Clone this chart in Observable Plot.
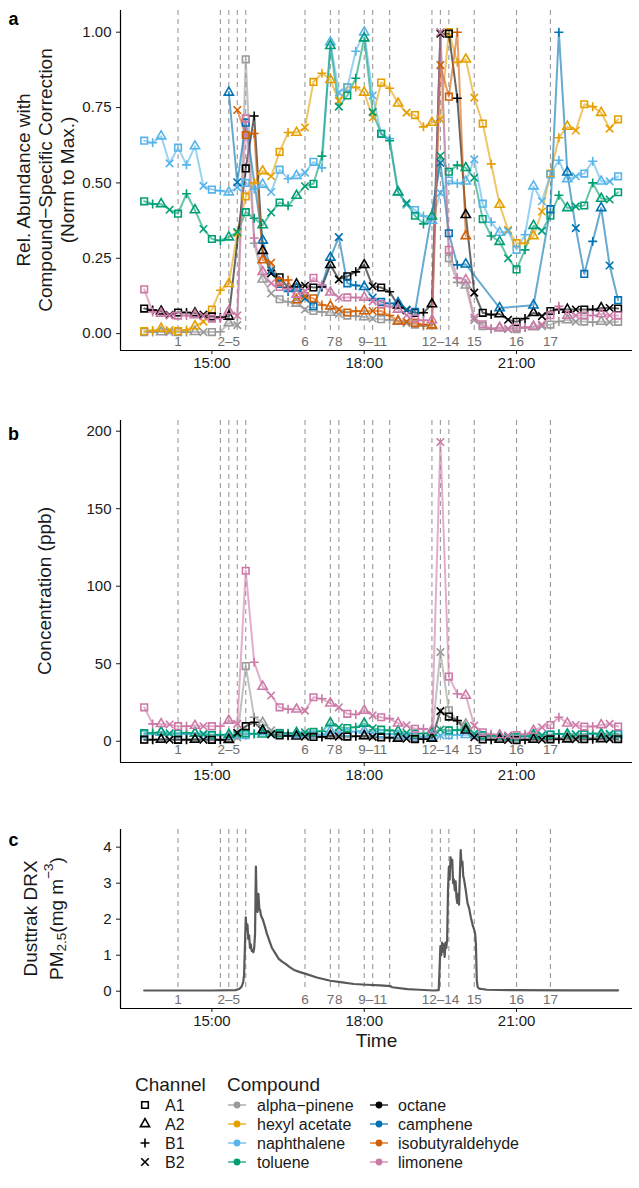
<!DOCTYPE html>
<html>
<head>
<meta charset="utf-8">
<script src="https://cdn.jsdelivr.net/npm/d3@7"></script>
<script src="https://cdn.jsdelivr.net/npm/@observablehq/plot@0.6"></script>
<style>
  body { margin: 0; background: #fff; }
  #chart { width: 639px; }
  #chart svg { display: block; }
</style>
</head>
<body>
<div id="chart"></div>
<script>
// ---------- data ----------
const sampleTimes = ["13:40","13:50","14:00","14:10","14:20","14:30","14:40","14:50","15:00","15:10",
  "15:20","15:30","15:40","15:50","16:00","16:10","16:20","16:30","16:40","16:50",
  "17:00","17:10","17:20","17:30","17:40","17:50","18:00","18:10","18:20","18:30",
  "18:40","18:50","19:00","19:10","19:20","19:30","19:40","19:50","20:00","20:10",
  "20:20","20:30","20:40","20:50","21:00","21:10","21:20","21:30","21:40","21:50",
  "22:00","22:10","22:20","22:30","22:40","22:50","23:00"];

const sampleChannels = ["A1","B1","A2","B2","A1","B1","A2","B2","A1","B1",
  "A2","B2","A1","B1","A2","B2","A1","B1","A2","B2",
  "A1","B1","A2","B2","A1","B1","A2","B2","A1","B1",
  "A2","B2","A1","B1","A2","B2","A1","B1","A2","B2",
  "A1","B1","A2","B2","A1","B1","A2","B2","A1","B1",
  "A2","B2","A1","B1","A2","B2","A1"];

const compounds = ["alpha−pinene","hexyl acetate","naphthalene","toluene","octane","camphene","isobutyraldehyde","limonene"];
const compoundColors = ["#999999","#E69F00","#56B4E9","#009E73","#000000","#0072B2","#D55E00","#CC79A7"];
const channels = ["A1","A2","B1","B2"];

// relative abundance (normalised to max), one value per sample, null = not detected
const relAlphaPinene = [0.005,0.005,0.005,0.005,0.005,0.005,0.006,0.005,0.005,0.006,
  0.035,0.028,0.91,0.30,0.18,0.133,0.114,0.105,0.10,0.08,
  0.075,0.072,0.07,0.065,0.06,0.058,0.055,0.05,0.048,0.045,
  0.04,0.035,0.03,0.025,0.025,1.0,0.25,0.17,0.16,0.045,
  0.025,0.015,0.018,0.015,0.015,0.02,0.022,0.025,0.03,0.04,
  0.045,0.04,0.04,0.038,0.04,0.038,0.039];
const relHexylAcetate = [0.008,0.01,0.017,0.012,0.008,0.012,0.025,0.04,0.08,0.144,
  0.165,0.333,0.455,0.50,0.539,0.522,0.603,0.667,0.667,0.684,
  0.835,0.864,0.842,0.772,0.817,0.817,0.80,0.717,0.833,0.814,
  0.764,0.733,0.725,0.686,0.70,0.711,1.0,0.90,0.91,0.783,
  0.697,0.563,0.428,0.344,0.30,0.30,0.324,0.405,0.531,0.65,
  0.687,0.674,0.761,0.753,0.733,0.68,0.711];
const relNaphthalene = [0.64,0.633,0.655,0.565,0.617,0.56,0.622,0.49,0.478,0.474,
  0.469,0.485,0.50,0.48,0.495,0.47,0.544,0.514,0.524,0.534,
  0.57,0.55,0.967,0.80,0.817,0.937,1.0,0.79,0.663,0.647,
  0.47,0.428,0.41,0.39,0.375,0.467,0.508,0.498,0.505,0.578,
  0.431,0.37,0.335,0.34,0.278,0.328,0.489,0.439,0.528,0.575,
  0.513,0.522,0.531,0.572,0.505,0.505,0.522];
const relToluene = [0.439,0.43,0.43,0.411,0.398,0.464,0.41,0.347,0.314,0.309,
  0.32,0.337,0.403,0.383,0.36,0.402,0.435,0.424,0.458,0.489,
  0.497,0.589,0.955,0.753,0.79,0.847,0.98,0.735,0.663,0.64,
  0.469,0.433,0.391,0.364,0.389,0.59,0.537,0.559,0.55,0.517,
  0.38,0.324,0.305,0.25,0.213,0.278,0.358,0.341,0.391,0.459,
  0.417,0.422,0.425,0.50,0.448,0.445,0.469];
const relOctane = [0.083,0.078,0.074,0.062,0.07,0.07,0.068,0.063,0.057,0.054,
  0.057,null,0.548,0.722,0.275,0.20,0.187,0.153,0.164,0.159,
  0.153,0.155,0.228,0.18,0.19,0.205,0.228,0.157,0.153,0.139,
  0.094,0.078,0.069,0.069,0.098,0.995,0.995,0.781,0.394,0.136,
  0.069,0.063,0.065,0.046,0.039,0.05,0.069,0.058,0.075,0.08,
  0.08,0.08,0.08,0.08,0.085,0.085,0.083];
const relCamphene = [null,null,null,null,null,null,null,null,null,null,
  0.80,0.502,0.70,null,0.309,0.21,0.165,0.14,0.15,0.117,
  0.091,0.16,0.252,0.32,0.167,0.16,0.155,0.12,0.105,0.10,
  0.102,0.08,0.072,null,null,0.567,0.333,0.228,0.23,null,
  null,null,0.085,null,null,null,0.094,null,0.413,1.0,
  0.535,0.35,0.198,0.306,0.417,0.226,0.111];
const relIsobutyraldehyde = [null,null,null,null,null,null,null,null,null,null,
  null,0.742,0.659,0.664,0.244,0.235,0.172,0.178,0.111,0.125,
  0.117,0.095,0.091,0.08,0.07,0.075,0.075,0.075,0.075,0.06,
  0.042,0.04,0.035,0.03,0.028,0.891,0.786,1.0,0.324,null,
  null,null,null,null,null,null,null,null,null,null,
  null,null,null,null,null,null,null];
const relLimonene = [0.147,0.072,0.067,0.06,0.06,0.06,0.062,0.058,0.05,0.05,
  0.075,0.06,0.714,0.317,0.205,0.167,0.155,0.15,0.13,0.14,
  0.185,0.161,0.137,0.12,0.12,0.12,0.12,0.107,0.098,0.09,
  0.08,0.061,0.05,0.044,0.045,1.0,0.278,0.185,0.178,0.053,
  0.031,0.017,0.02,0.017,0.02,0.02,0.024,0.03,0.061,0.091,
  0.06,0.06,0.06,0.06,0.065,0.06,0.06];

// calibrated concentrations (ppb)
const concAlphaPinene = [1.0,1.2,1.5,1.3,1.2,1.2,1.3,1.2,1.3,1.2,
  1.8,2.5,48.5,15.5,12,7,5.5,5,4.5,4.2,
  4,3.8,3.7,3.5,3.3,3.2,3.1,3,2.8,2.7,
  2.5,2.3,2.2,2,2,57.5,20,13,11,4,
  2.5,2,1.8,1.6,1.5,1.5,1.6,1.7,2,2.3,
  2.5,2.4,2.3,2.3,2.3,2.3,2.2];
const concNaphthalene = [4.5,4.5,5.8,4.5,4.8,4.5,5,4,3.7,3.7,
  3.7,3.8,4,4.7,6,4.2,4.2,4,4.3,4.2,
  4.4,4.3,6.8,5.5,5.6,6.3,7,5.4,4.8,4.6,
  3.8,3.5,3.2,3.1,3,3.8,4,4,4.1,4.5,
  3.6,3.2,3,3,2.6,3,4.2,3.8,4.4,4.7,
  4.3,4.4,4.4,4.7,4.3,4.3,4.4];
const concToluene = [5.2,5.5,6,5.2,5.2,5.5,5.2,4.8,4.2,4.2,
  4.3,4.5,5,4.8,4.5,4.8,5.2,5.2,5.5,5.8,
  6,6.5,11.8,9,8.5,9,11.5,8.4,7.5,7,
  6.5,5.5,5,5,5.5,7.6,7,7.2,8.4,5,
  4,3.5,3.4,3,2.8,3.2,4,3.8,4.2,4.8,
  4.5,4.5,4.6,5,4.8,4.8,5];
const concOctane = [1,1,1.1,1,0.9,1,1.1,1,0.9,0.9,
  1,5.5,9.7,12.3,7,4.5,3.7,3.5,3.2,3,
  2.8,2.8,3.5,3,3,3.2,3.5,2.8,2.5,2.3,
  1.8,1.6,1.4,1.4,1.8,19.4,15.9,13.4,7,2.6,
  1.2,1,1.1,0.8,0.7,0.9,1.1,1,1.2,1.3,
  1.3,1.3,1.3,1.3,1.4,1.4,1.3];
const concLimonene = [21.9,11.2,11.2,10.8,9.7,9.7,10.1,9.7,9.7,9.7,
  13.4,11.2,110,51,35.3,29.5,21.9,20.6,20.6,19.8,
  28.4,27.4,24.5,21.9,17.7,17.3,19.8,16.7,15.5,14.6,
  11.6,10.3,8,8,7,193,41.7,30.6,29.5,10.1,
  5.8,4.5,4,3.8,4,4.5,6.9,9,10.5,15.5,
  11.6,10.5,9.5,9.5,10.5,11.2,9.5];

// Dusttrak DRX PM2.5 (mg m-3)
const pmTimes = ["13:40","15:00","15:28","15:32","15:35","15:37","15:38","15:39","15:40","15:41",
  "15:42","15:43","15:44","15:45","15:46","15:47","15:48","15:49","15:50","15:51",
  "15:52","15:53","15:54","15:55","15:56","15:57","15:58","16:00","16:02","16:05",
  "16:08","16:11","16:15","16:19","16:23","16:27","16:32","16:37","16:44","16:51",
  "17:04","17:20","17:32","17:48","18:03","18:19","18:31","18:33","18:51","19:05",
  "19:22","19:28","19:29","19:30","19:31","19:32","19:33","19:34","19:35","19:36",
  "19:37","19:38","19:39","19:40","19:41","19:42","19:43","19:44","19:45","19:46",
  "19:47","19:48","19:49","19:50","19:51","19:52","19:53","19:54","19:55","19:56",
  "19:57","19:58","20:00","20:02","20:04","20:06","20:08","20:10","20:11","20:12",
  "20:13","20:14","20:16","20:25","21:00","22:00","23:00"];
const pmValues = [0.02,0.02,0.03,0.06,0.12,0.25,0.45,1.2,2.05,1.7,
  1.85,1.45,1.55,1.2,1.3,1.12,1.15,1.08,1.2,1.6,
  3.46,2.3,2.2,2.7,2.3,2.25,2.1,2.0,1.85,1.6,
  1.4,1.2,1.05,0.9,0.82,0.76,0.67,0.59,0.53,0.48,
  0.38,0.29,0.25,0.2,0.18,0.16,0.14,0.11,0.06,0.04,
  0.02,0.03,0.6,1.25,1.0,1.35,1.1,1.3,0.95,1.35,
  1.2,1.45,2.8,3.45,3.1,3.72,3.5,3.65,3.0,3.1,
  2.8,3.05,2.6,2.45,2.7,2.4,3.2,3.92,3.5,3.6,
  3.2,3.1,2.8,2.45,2.3,2.05,1.85,1.7,1.6,1.3,
  0.3,0.12,0.07,0.04,0.03,0.025,0.025];

// event markers and their labels
const eventTimes = ["14:20","15:10","15:20","15:30","15:40","16:50","17:20","17:30","18:00",
  "18:10","18:30","19:20","19:30","19:40","20:10","21:00","21:40"];
const eventLabelTimes = ["14:20","15:20","16:50","17:20","17:30","18:10","19:30","20:10","21:00","21:40"];
const eventLabels = ["1","2–5","6","7","8","9–11","12–14","15","16","17"];

const xTickTimes = ["15:00","18:00","21:00"];

// ---------- helpers ----------
const FONT = "'Liberation Sans', Arial, Helvetica, sans-serif";
const INK = "#1a1a1a";
const TITLE_SIZE = 19;
const clock = s => { const [h, m] = s.split(":").map(Number); return new Date(Date.UTC(2000, 0, 1, h, m)); };
const xDomain = [clock("13:12"), clock("23:17")];

function tidy(names, seriesList) {
  const rows = [];
  names.forEach((name, k) => {
    seriesList[k].forEach((v, i) => {
      if (v != null) rows.push({time: clock(sampleTimes[i]), channel: sampleChannels[i], compound: name, value: v});
    });
  });
  return rows;
}

const channelMarkers = {
  A1: {symbol: "square2", r: 4.2},
  A2: {symbol: "triangle2", r: 4.4},
  B1: {symbol: "plus", r: 3.0},
  B2: {symbol: "times", r: 3.5}
};

function seriesMarks(rows) {
  return [
    Plot.line(rows, {x: "time", y: "value", z: "compound", stroke: "compound", strokeWidth: 2, strokeOpacity: 0.6}),
    ...channels.map(ch => Plot.dot(rows.filter(d => d.channel === ch), {
      x: "time", y: "value", stroke: "compound", fill: "none",
      symbol: channelMarkers[ch].symbol, r: channelMarkers[ch].r, strokeWidth: 1.6
    }))
  ];
}

// rotated y-axis title lines, centred on the frame's vertical middle
function addYTitle(svg, lines, xs, midY, size = TITLE_SIZE) {
  lines.forEach((line, i) => {
    d3.select(svg).append("text")
      .attr("transform", `translate(${xs[i]},${midY}) rotate(-90)`)
      .attr("text-anchor", "middle").attr("dominant-baseline", "central")
      .attr("font-family", FONT).attr("font-size", size).attr("fill", INK)
      .text(line);
  });
}

function panel({height, marginTop, marginBottom, yDomain, yTicks, yFormat, tag, tagDy, marks}) {
  const labels = eventLabelTimes.map((t, i) => ({time: clock(t), text: eventLabels[i]}));
  return Plot.plot({
    width: 639, height, marginLeft: 120, marginRight: 7, marginTop, marginBottom,
    style: {fontFamily: FONT, fontSize: "15px", color: INK, background: "white", overflow: "visible"},
    x: {type: "utc", domain: xDomain},
    y: {domain: yDomain},
    color: {domain: compounds, range: compoundColors},
    marks: [
      Plot.ruleX(eventTimes.map(clock), {x: d => d, y1: yDomain[1], y2: 0, stroke: "#9a9a9a", strokeWidth: 1.1, strokeDasharray: "5,4"}),
      Plot.text(labels, {x: "time", y: 0, text: "text", lineAnchor: "top", dy: 3, fontSize: 13.5, fill: "#6e6e6e"}),
      ...marks,
      Plot.axisX({ticks: xTickTimes.map(clock), tickFormat: d3.utcFormat("%H:%M"), tickSize: 4, tickPadding: 3, fontSize: 15, label: null}),
      Plot.axisY({ticks: yTicks, tickFormat: yFormat, tickSize: 4, tickPadding: 5, fontSize: 15, label: null}),
      Plot.ruleX([xDomain[0]], {stroke: "#000", strokeWidth: 1.2}),
      Plot.ruleY([yDomain[0]], {stroke: "#000", strokeWidth: 1.2}),
      Plot.text([tag], {text: d => d, frameAnchor: "top-left", dx: -107, dy: tagDy, textAnchor: "middle", fontSize: 18, fontWeight: "bold", fill: "#000"})
    ]
  });
}

const chart = document.getElementById("chart");

// ---------- panel a: relative abundance ----------
const relRows = tidy(compounds, [relAlphaPinene, relHexylAcetate, relNaphthalene, relToluene,
  relOctane, relCamphene, relIsobutyraldehyde, relLimonene]);
const svgA = panel({
  height: 400, marginTop: 10, marginBottom: 50,
  yDomain: [-0.056, 1.072], yTicks: [0, 0.25, 0.5, 0.75, 1], yFormat: d3.format(".2f"),
  tag: "a", tagDy: 2,
  marks: seriesMarks(relRows)
});
addYTitle(svgA, ["Rel. Abundance with", "Compound−Specific Correction", "(Norm to Max.)"], [23, 45, 67], 180);
chart.appendChild(svgA);

// ---------- panel b: concentrations ----------
const concCompounds = ["alpha−pinene", "naphthalene", "toluene", "octane", "limonene"];
const concRows = tidy(concCompounds, [concAlphaPinene, concNaphthalene, concToluene, concOctane, concLimonene]);
const svgB = panel({
  height: 410, marginTop: 20, marginBottom: 48,
  yDomain: [-13.7, 206.9], yTicks: [0, 50, 100, 150, 200], yFormat: d3.format("d"),
  tag: "b", tagDy: 7,
  marks: seriesMarks(concRows)
});
addYTitle(svgB, ["Concentration (ppb)"], [44], (20 + 362) / 2);
chart.appendChild(svgB);

// ---------- panel c: PM2.5 ----------
const pmRows = pmTimes.map((t, i) => ({time: clock(t), value: pmValues[i]}));
const svgC = panel({
  height: 250, marginTop: 19, marginBottom: 52,
  yDomain: [-0.48, 4.49], yTicks: [0, 1, 2, 3, 4], yFormat: d3.format("d"),
  tag: "c", tagDy: 4,
  marks: [
    Plot.line(pmRows, {x: "time", y: "value", stroke: "#595959", strokeWidth: 2.2}),
    Plot.text(["Time"], {text: d => d, frameAnchor: "bottom", dy: 38, fontSize: TITLE_SIZE, fill: INK})
  ]
});
{
  const midY = (19 + (250 - 52)) / 2;
  addYTitle(svgC, ["Dusttrak DRX"], [30], midY);
  // second title line with subscript / superscript
  const t = d3.select(svgC).append("text")
    .attr("transform", `translate(56,${midY}) rotate(-90)`)
    .attr("text-anchor", "middle").attr("dominant-baseline", "central")
    .attr("font-family", FONT).attr("font-size", TITLE_SIZE).attr("fill", INK);
  t.append("tspan").text("PM");
  t.append("tspan").attr("font-size", 13.5).attr("dy", 5).text("2.5");
  t.append("tspan").attr("dy", -5).text("(mg m");
  t.append("tspan").attr("font-size", 13.5).attr("dy", -8).text("−3");
  t.append("tspan").attr("dy", 8).text(")");
}
chart.appendChild(svgC);

// ---------- legend ----------
const legend = d3.create("svg").attr("width", 639).attr("height", 128)
  .style("display", "block").style("background", "white")
  .attr("font-family", FONT).attr("fill", INK);
const rowY = [45, 64, 83, 102];
legend.append("text").attr("x", 135).attr("y", 24).attr("dominant-baseline", "central").attr("font-size", TITLE_SIZE).text("Channel");
legend.append("text").attr("x", 227).attr("y", 24).attr("dominant-baseline", "central").attr("font-size", TITLE_SIZE).text("Compound");
const d3Symbols = {square2: d3.symbolSquare2, triangle2: d3.symbolTriangle2, plus: d3.symbolPlus, times: d3.symbolTimes};
channels.forEach((ch, i) => {
  const m = channelMarkers[ch];
  legend.append("path")
    .attr("d", d3.symbol(d3Symbols[m.symbol], Math.PI * m.r * m.r)())
    .attr("transform", `translate(145,${rowY[i]})`)
    .attr("fill", "none").attr("stroke", "#000").attr("stroke-width", 1.6);
  legend.append("text").attr("x", 165).attr("y", rowY[i]).attr("dominant-baseline", "central").attr("font-size", 16).text(ch);
});
compounds.forEach((name, k) => {
  const col = Math.floor(k / 4), row = k % 4;
  const x0 = col === 0 ? 228 : 370;
  const lx = col === 0 ? 257 : 398;
  const y = rowY[row];
  legend.append("line").attr("x1", x0).attr("x2", x0 + 18).attr("y1", y).attr("y2", y)
    .attr("stroke", compoundColors[k]).attr("stroke-width", 2).attr("stroke-opacity", 0.6);
  legend.append("circle").attr("cx", x0 + 9).attr("cy", y).attr("r", 3.4).attr("fill", compoundColors[k]);
  legend.append("text").attr("x", lx).attr("y", y).attr("dominant-baseline", "central").attr("font-size", 16).text(name);
});
chart.appendChild(legend.node());
</script>
</body>
</html>
